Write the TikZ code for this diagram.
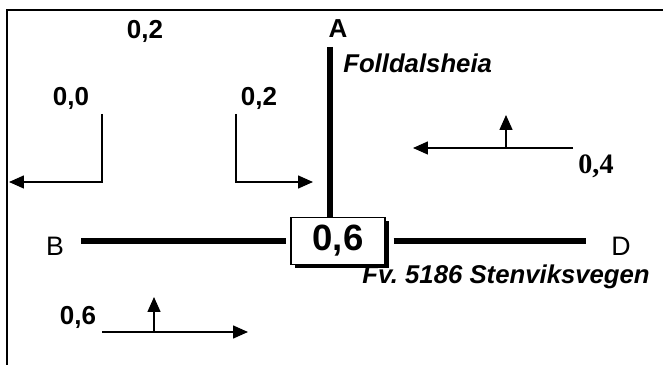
\documentclass[tikz,border=0pt]{standalone}
\usepackage{fontspec}
\setmainfont{Liberation Sans}
\newfontfamily\timesnum{Liberation Serif}
\usetikzlibrary{arrows.meta,shadows}

\begin{document}
\begin{tikzpicture}[scale=1,
  num/.style={inner sep=0pt, font=\fontsize{18.5}{20}\selectfont\bfseries},
  leg/.style={inner sep=0pt, font=\fontsize{19}{21}\selectfont},
  place/.style={inner sep=0pt, font=\fontsize{18.3}{20}\selectfont\bfseries\itshape},
  road/.style={line width=4pt},
  turn/.style={line width=1.1pt, -{Triangle[length=0.37cm,width=0.32cm]}}]
\useasboundingbox (0,0) rectangle (16.575,9.125);
\draw[line width=1.3pt] (0.175,0) -- (0.175,8.875) -- (16.575,8.875);

\node[draw, rectangle, line width=0.8pt, fill=white, minimum width=2.35cm, minimum height=1.175cm,
  drop shadow={shadow xshift=0.1cm, shadow yshift=-0.1cm, fill=black, opacity=1},
  font=\fontsize{26}{28}\selectfont\bfseries] (box) at (8.45,3.1) {0,6};

\node[num] (A) at (8.45,8.4) {A};
\node[leg] (B) at (1.375,2.975) {B};
\node[leg] (D) at (15.525,2.975) {D};
\node[place, anchor=base west] (folldal) at (8.575,7.3) {Folldalsheia};
\node[place, anchor=base west] (fv) at (9.05,2.025) {Fv.\ 5186 Stenviksvegen};

\coordinate (Atop) at (8.25,7.95);
\draw[road] (Atop) -- (Atop |- box.north);
\draw[road] ([xshift=0.425cm]B.east |- box.west) -- ([xshift=-0.1cm]box.west);
\draw[road] ([xshift=0.2cm]box.east) -- ([xshift=-0.625cm]D.west |- box.east);

\node[num] (topnum) at (3.625,8.35) {0,2};
\node[num] (leftnum) at (1.775,6.675) {0,0};
\node[num] (rightnum) at (6.475,6.675) {0,2};
\node[num, font=\fontsize{20}{22}\selectfont\bfseries\timesnum] (dnum) at (14.9,4.975) {0,4};
\node[num] (bnum) at (1.95,1.2) {0,6};

\draw[turn] (2.55,6.275) -- (2.55,4.575) -- (0.225,4.575);
\draw[turn] (5.9,6.275) -- (5.9,4.575) -- (7.825,4.575);

\draw[turn] (14.325,5.425) -- (10.325,5.425);
\draw[turn] (12.65,5.425) -- (12.65,6.25);

\draw[turn] (2.55,0.825) -- (6.2,0.825);
\draw[turn] (3.85,0.825) -- (3.85,1.7);
\end{tikzpicture}
\end{document}
